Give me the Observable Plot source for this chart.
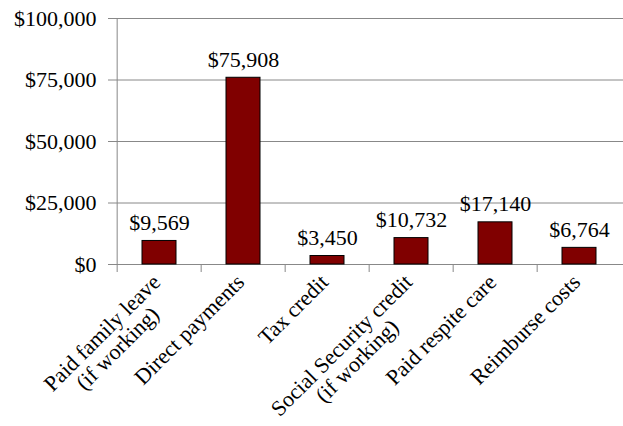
<!DOCTYPE html>
<html>
<head>
<meta charset="utf-8">
<script src="https://cdn.jsdelivr.net/npm/d3@7"></script>
<script src="https://cdn.jsdelivr.net/npm/@observablehq/plot@0.6"></script>
<style>
  html, body { margin: 0; padding: 0; background: #fff; }
  #chart svg, #chart svg text, #chart svg g { font-family: "Liberation Serif", "Times New Roman", serif !important; }
</style>
</head>
<body>
<div id="chart"></div>
<script>
const categories = [
  "Paid family leave\n(if working)",
  "Direct payments",
  "Tax credit",
  "Social Security credit\n(if working)",
  "Paid respite care",
  "Reimburse costs"
];
const values = [9569, 75908, 3450, 10732, 17140, 6764];
const yTicks = [0, 25000, 50000, 75000, 100000];

const W = 623, H = 426;
const mL = 115, mR = 0, mT = 18, mB = 162;
const step = (W - mL - mR) / categories.length;
const FONT = "Liberation Serif";
const FS = 22;
const XFS = 22;
const GRID = "#888888";

const data = categories.map((c, i) => ({cat: c, value: values[i]}));
const money = d => "$" + d3.format(",")(d);

// measure text widths with a hidden SVG using the same font
const ns = "http://www.w3.org/2000/svg";
const msvg = document.createElementNS(ns, "svg");
msvg.setAttribute("style", "position:absolute;left:-9999px;top:0");
document.body.appendChild(msvg);
function measure(s) {
  const t = document.createElementNS(ns, "text");
  t.setAttribute("font-family", "Liberation Serif, serif");
  t.setAttribute("font-size", XFS);
  t.textContent = s;
  msvg.appendChild(t);
  const w = t.getComputedTextLength();
  msvg.removeChild(t);
  return w;
}
const k = Math.SQRT1_2;

const labelMarks = categories.map(c => {
  const lines = c.split("\n");
  const w = Math.max(...lines.map(measure));
  return Plot.text([c], {
    x: d => d,
    frameAnchor: "bottom",
    text: d => d,
    rotate: -45,
    textAnchor: "middle",
    lineAnchor: "top",
    lineHeight: 1.0,
    fontSize: XFS,
    fontFamily: FONT,
    fill: "black",
    dx: -k * w / 2 - 9,
    dy: 8 + k * w / 2
  });
});

const chart = Plot.plot({
  width: W,
  height: H,
  marginLeft: mL,
  marginRight: mR,
  marginTop: mT,
  marginBottom: mB,
  style: {fontFamily: FONT, background: "#fff", overflow: "visible"},
  x: {domain: categories, padding: 0, axis: null},
  y: {domain: [0, 100000], axis: null},
  marks: [
    Plot.gridY(yTicks, {stroke: GRID, strokeOpacity: 1}),
    Plot.axisY({
      ticks: yTicks,
      tickFormat: money,
      tickSize: 7,
      tickPadding: 12,
      fontSize: FS,
      fontFamily: FONT,
      stroke: GRID,
      fill: "black",
      label: null
    }),
    Plot.axisX({
      tickSize: 8,
      tickFormat: () => "",
      dx: -step / 2,
      stroke: GRID,
      label: null
    }),
    Plot.ruleX([0], {x: () => categories[0], dx: -step / 2, stroke: GRID}),
    Plot.ruleY([0], {stroke: GRID}),
    Plot.barY(data, {
      x: "cat",
      y: "value",
      fill: "#800000",
      stroke: "black",
      strokeWidth: 1,
      insetLeft: 25,
      insetRight: 25
    }),
    Plot.text(data, {
      x: "cat",
      y: "value",
      text: d => money(d.value),
      dy: -11,
      lineAnchor: "bottom",
      fontSize: FS,
      fontFamily: FONT,
      fill: "black"
    }),
    ...labelMarks
  ]
});

document.getElementById("chart").appendChild(chart);
</script>
</body>
</html>
